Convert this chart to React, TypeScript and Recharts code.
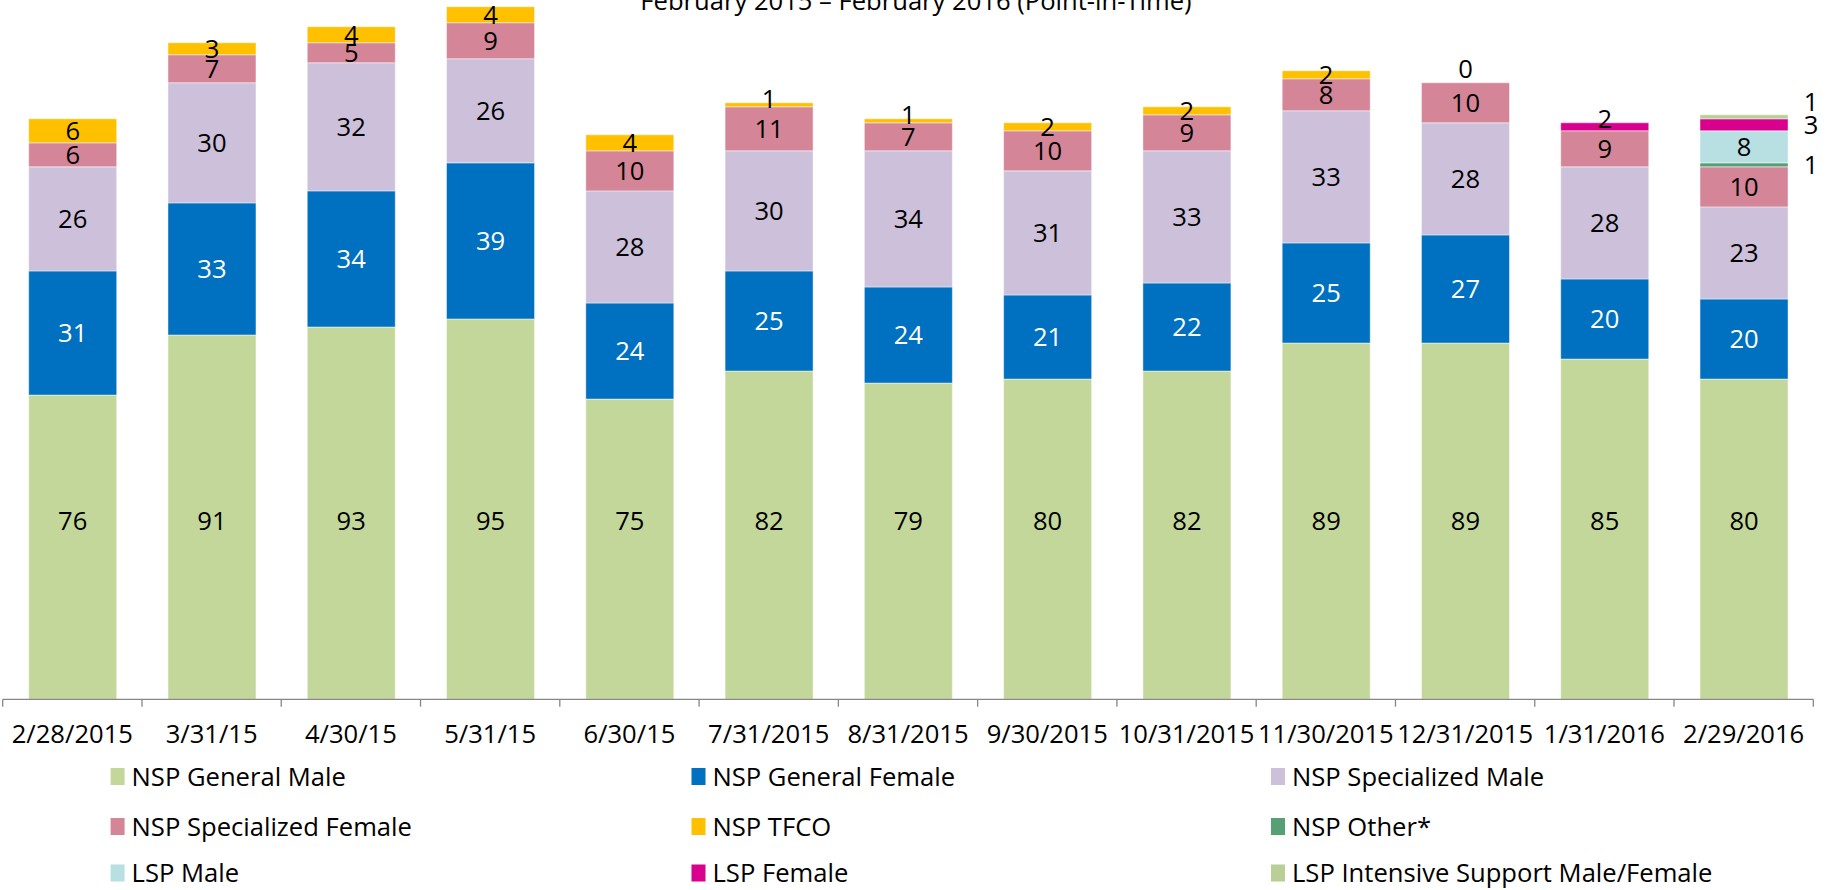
import React from "react";
import { BarChart, Bar, XAxis, YAxis, Legend, LabelList } from "recharts";

const dates = ["2/28/2015", "3/31/15", "4/30/15", "5/31/15", "6/30/15", "7/31/2015", "8/31/2015", "9/30/2015", "10/31/2015", "11/30/2015", "12/31/2015", "1/31/2016", "2/29/2016"];
const nspGeneralMale = [76, 91, 93, 95, 75, 82, 79, 80, 82, 89, 89, 85, 80];
const nspGeneralFemale = [31, 33, 34, 39, 24, 25, 24, 21, 22, 25, 27, 20, 20];
const nspSpecializedMale = [26, 30, 32, 26, 28, 30, 34, 31, 33, 33, 28, 28, 23];
const nspSpecializedFemale = [6, 7, 5, 9, 10, 11, 7, 10, 9, 8, 10, 9, 10];
const nspTFCO: (number | null)[] = [6, 3, 4, 4, 4, 1, 1, 2, 2, 2, 0, null, null];
const nspOther: (number | null)[] = [null, null, null, null, null, null, null, null, null, null, null, null, 1];
const lspMale: (number | null)[] = [null, null, null, null, null, null, null, null, null, null, null, null, 8];
const lspFemale: (number | null)[] = [null, null, null, null, null, null, null, null, null, null, null, 2, 3];
const lspIntensive: (number | null)[] = [null, null, null, null, null, null, null, null, null, null, null, null, 1];

const series = [
  { key: "gm", name: "NSP General Male", color: "#C4D79B", values: nspGeneralMale, text: "#000" },
  { key: "gf", name: "NSP General Female", color: "#0070C0", values: nspGeneralFemale, text: "#fff" },
  { key: "sm", name: "NSP Specialized Male", color: "#CCC0DA", values: nspSpecializedMale, text: "#000" },
  { key: "sf", name: "NSP Specialized Female", color: "#D48597", values: nspSpecializedFemale, text: "#000" },
  { key: "tfco", name: "NSP TFCO", color: "#FFC000", values: nspTFCO, text: "#000" },
  { key: "other", name: "NSP Other*", color: "#57A073", values: nspOther, text: "#000" },
  { key: "lm", name: "LSP  Male", color: "#B8DFE2", values: lspMale, text: "#000" },
  { key: "lf", name: "LSP Female", color: "#D8008C", values: lspFemale, text: "#000" },
  { key: "li", name: "LSP Intensive Support Male/Female", color: "#BACE97", values: lspIntensive, text: "#000" },
];

const data = dates.map((d, i) => {
  const row: any = { date: d };
  series.forEach((s) => (row[s.key] = s.values[i]));
  return row;
});

const FONT = "'Open Sans', sans-serif";
const FS = 25.6;
const W = 1826;
const H = 920;
const TOP = -30;
const margin = { top: 8.7, right: 12.7, left: 2.7, bottom: 130.7 };
const bandW = (W - margin.left - margin.right) / dates.length;
const AXIS = "#878787";

const sideKeys = ["other", "lf", "li"];

const makeLabel = (key: string, color: string) => (props: any) => {
  const { x, y, width, height, value } = props;
  if (value === null || value === undefined) return null;
  const v = Number(value);
  const idx = Math.round((x + width / 2 - margin.left - bandW / 2) / bandW);
  let cx = x + width / 2;
  let cy = y + height / 2;
  if (key === "gm" && v > 0) {
    cy = y + height - (44.5 * height) / v;
  }
  if (idx === dates.length - 1 && sideKeys.includes(key)) {
    cx = x + width + 23;
    if (key === "li") cy -= 15;
  } else if (height < 6) {
    cy -= 6;
  } else if (key === "lf") {
    cy -= 8;
  }
  const zeroAbove = key === "sf" && nspTFCO[idx] === 0;
  return (
    <g>
      <text x={cx} y={cy + 9} textAnchor="middle" fill={color} fontFamily={FONT} fontSize={FS}>
        {v}
      </text>
      {zeroAbove && (
        <text x={cx} y={y - 14 + 9} textAnchor="middle" fill="#000" fontFamily={FONT} fontSize={FS}>
          {nspTFCO[idx]}
        </text>
      )}
    </g>
  );
};

const Tick = (props: any) => {
  const { x, y, payload, index } = props;
  const left = x - bandW / 2;
  const right = x + bandW / 2;
  const isLast = payload && payload.value === dates[dates.length - 1];
  return (
    <g>
      <line x1={left} x2={left} y1={y} y2={y + 7.4} stroke={AXIS} strokeWidth={1.3} />
      {isLast && <line x1={right} x2={right} y1={y} y2={y + 7.4} stroke={AXIS} strokeWidth={1.3} />}
      <text x={x} y={y + 43.2} textAnchor="middle" fill="#000" fontFamily={FONT} fontSize={FS}>
        {payload.value}
      </text>
    </g>
  );
};

const colX = [110.6, 691.5, 1271];
const rowY = [36.5, 86.5, 133];

const LegendContent = () => (
  <svg width={W} height={150} style={{ display: "block" }}>
    {series.map((s, i) => {
      const cx = colX[i % 3];
      const cy = rowY[Math.floor(i / 3)];
      return (
        <g key={s.key}>
          <rect x={cx} y={cy - 8.5} width={14} height={17} fill={s.color} />
          <text x={cx + 21} y={cy + 9} fill="#000" fontFamily={FONT} fontSize={FS}>
            {s.name}
          </text>
        </g>
      );
    })}
  </svg>
);

export default function App() {
  return (
    <div style={{ position: "absolute", left: 0, top: 0, width: W, height: 890, overflow: "hidden", background: "#fff" }}>
      <svg width={W} height={40} style={{ position: "absolute", left: 0, top: 0, zIndex: 2 }}>
        <text x={916} y={10} textAnchor="middle" fill="#000" fontFamily={FONT} fontSize={FS}>
          February 2015 – February 2016 (Point-in-Time)
        </text>
      </svg>
      <div style={{ position: "absolute", left: 0, top: TOP }}>
        <BarChart width={W} height={H} data={data} margin={margin}>
          <XAxis
            dataKey="date"
            height={60}
            interval={0}
            axisLine={{ stroke: AXIS, strokeWidth: 1.3 }}
            tickLine={false}
            tickSize={0}
            tickMargin={0}
            tick={<Tick />}
          />
          <YAxis hide domain={[0, 180]} type="number" allowDataOverflow />
          <Legend
            layout="horizontal"
            verticalAlign="middle"
            align="center"
            wrapperStyle={{ top: 770, left: 0, width: W, height: 150 }}
            content={<LegendContent />}
          />
          {series.map((s) => (
            <Bar
              key={s.key}
              dataKey={s.key}
              name={s.name}
              stackId="a"
              fill={s.color}
              stroke="#ffffff"
              strokeOpacity={0.45}
              strokeWidth={1}
              barSize={88}
              isAnimationActive={false}
            >
              <LabelList dataKey={s.key} content={makeLabel(s.key, s.text)} />
            </Bar>
          ))}
        </BarChart>
      </div>
    </div>
  );
}
